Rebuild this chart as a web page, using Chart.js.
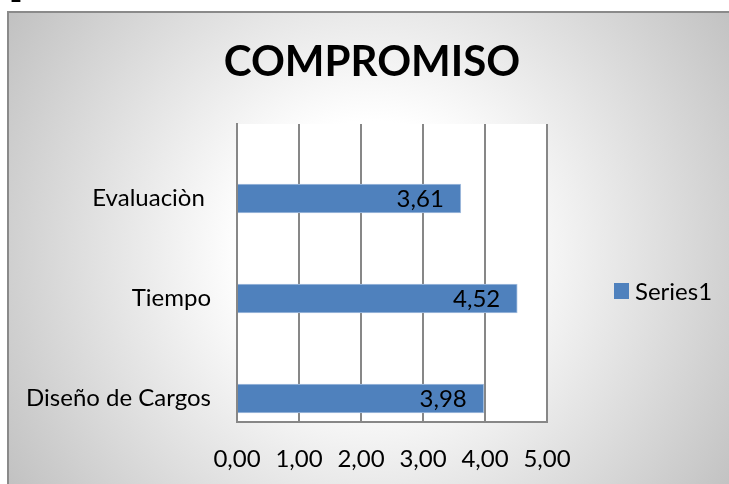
<!DOCTYPE html>
<html>
<head>
<meta charset="utf-8">
<script src="https://cdn.jsdelivr.net/npm/chart.js@4/dist/chart.umd.min.js"></script>
<style>
  html, body { margin: 0; padding: 0; background: #fff; }
  #wrap { position: relative; width: 729px; height: 484px; }
</style>
</head>
<body>
<div id="wrap"><canvas id="chart"></canvas></div>
<script>
// bottom-to-top order, as the sheet lists them
const categories = ['Diseño de Cargos', 'Tiempo', 'Evaluaciòn '];
const values = [3.98, 4.52, 3.61];
const xTicks = [0, 1, 2, 3, 4, 5];
const seriesName = 'Series1';
const chartTitle = 'COMPROMISO';

const FAMILY = 'Lato, "Noto Sans", sans-serif';
const GRID = '#878787';
const BAR = '#4f81bd';

function comma(v) {
  return Number(v).toFixed(2).replace('.', ',');
}

// gray frame with the soft radial fill, white plot area
const backdrop = {
  id: 'backdrop',
  beforeDraw(chart) {
    const { ctx, width, height, chartArea: a } = chart;
    ctx.save();
    ctx.fillStyle = '#fff';
    ctx.fillRect(0, 0, width, height);
    const g = ctx.createRadialGradient(372, 250, 0, 372, 250, 430);
    g.addColorStop(0, '#ffffff');
    g.addColorStop(0.3, '#ffffff');
    g.addColorStop(1, '#c2c2c2');
    ctx.fillStyle = g;
    ctx.fillRect(8, 12, width, height);
    ctx.strokeStyle = '#8a8a8a';
    ctx.lineWidth = 2;
    ctx.strokeRect(8, 12, width + 10, height + 10);
    ctx.fillStyle = '#fff';
    ctx.fillRect(a.left, a.top, a.right - a.left, a.bottom - a.top);
    // figure number, mostly cut off above the frame
    ctx.fillStyle = '#000';
    ctx.font = 'bold 22px ' + FAMILY;
    ctx.textBaseline = 'alphabetic';
    ctx.fillText('1', 9, 2);
    ctx.restore();
  }
};

// value written inside the end of each bar
const valueLabels = {
  id: 'valueLabels',
  afterDatasetsDraw(chart) {
    const { ctx } = chart;
    const meta = chart.getDatasetMeta(0);
    ctx.save();
    ctx.font = '24px ' + FAMILY;
    ctx.fillStyle = '#000';
    ctx.textAlign = 'right';
    ctx.textBaseline = 'middle';
    meta.data.forEach((bar, i) => {
      ctx.fillText(comma(values[i]), bar.x - 17, bar.y + 1);
    });
    ctx.restore();
  }
};

// series key in the right margin
const seriesKey = {
  id: 'seriesKey',
  afterDraw(chart) {
    const { ctx, chartArea: a } = chart;
    const ds = chart.data.datasets[0];
    const x = a.right + 67;
    const y = (a.top + a.bottom) / 2 + 18;
    ctx.save();
    ctx.fillStyle = ds.backgroundColor;
    ctx.fillRect(x, y - 8, 15, 16);
    ctx.font = '24px ' + FAMILY;
    ctx.fillStyle = '#000';
    ctx.textBaseline = 'middle';
    ctx.fillText(ds.label, x + 21, y + 1);
    ctx.restore();
  }
};

new Chart(document.getElementById('chart'), {
  type: 'bar',
  data: {
    datasets: [{
      label: seriesName,
      data: categories.map((c, i) => ({ x: values[i], y: i })),
      backgroundColor: BAR,
      borderColor: '#a7c0e0',
      borderWidth: 1,
      barThickness: 29
    }]
  },
  options: {
    indexAxis: 'y',
    responsive: true,
    maintainAspectRatio: false,
    animation: false,
    layout: { padding: { left: 15, top: 12, right: 0, bottom: 0 } },
    scales: {
      x: {
        min: 0,
        max: 5,
        afterBuildTicks: s => { s.ticks = xTicks.map(v => ({ value: v })); },
        afterFit: s => { s.height = 62; s.paddingRight = 182; },
        grid: { color: GRID, lineWidth: 2, drawTicks: false },
        border: { color: GRID, width: 2 },
        ticks: {
          callback: v => comma(v),
          font: { family: FAMILY, size: 24 },
          color: '#000',
          padding: 23
        }
      },
      y: {
        type: 'linear',
        offset: false,
        min: -0.235,
        max: 2.745,
        afterBuildTicks: s => { s.ticks = categories.map((c, i) => ({ value: i })); },
        afterFit: s => { s.width = 222; },
        grid: { display: false, offset: false },
        border: { color: GRID, width: 2 },
        ticks: {
          callback: v => categories[v],
          font: { family: FAMILY, size: 24 },
          color: '#000',
          padding: 18
        }
      }
    },
    plugins: {
      title: {
        display: true,
        text: chartTitle,
        color: '#000',
        font: { family: FAMILY, size: 42, weight: 'bold' },
        padding: { top: 25, bottom: 36.6 }
      },
      legend: { display: false },
      tooltip: { enabled: false }
    }
  },
  plugins: [backdrop, valueLabels, seriesKey]
});
</script>
</body>
</html>
